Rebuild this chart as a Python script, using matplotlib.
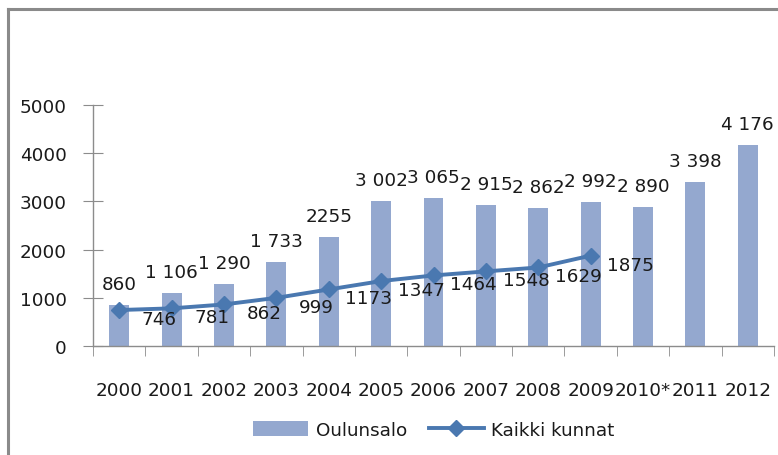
#!/usr/bin/env python3
"""Oulunsalo vs. Kaikki kunnat, 2000-2012 (bars + line)."""

import matplotlib
matplotlib.use("Agg")
import matplotlib.pyplot as plt
import matplotlib.lines as mlines
import numpy as np

# ─── DATA ─────────────────────────────────────────────────────────────────────

years = ["2000", "2001", "2002", "2003", "2004", "2005", "2006",
         "2007", "2008", "2009", "2010*", "2011", "2012"]
oulunsalo = [860, 1106, 1290, 1733, 2255, 3002, 3065,
             2915, 2862, 2992, 2890, 3398, 4176]
oulunsalo_labels = ["860", "1 106", "1 290", "1 733", "2255", "3 002", "3 065",
                    "2 915", "2 862", "2 992", "2 890", "3 398", "4 176"]
kaikki = [746, 781, 862, 999, 1173, 1347, 1464, 1548, 1629, 1875]

# ─── COLORS ───────────────────────────────────────────────────────────────────

BAR_CLR = "#94a8cf"
LINE_CLR = "#4a78b0"
TEXT_CLR = "#1a1a1a"
AXIS_CLR = "#8c8c8c"
FRAME_CLR = "#8a8a8a"
FS = 13.2

plt.rcParams["font.family"] = ["DejaVu Sans"]

fig = plt.figure(figsize=(7.78, 4.56), dpi=100)
fig.patch.set_facecolor("white")

# outer frame: top and left lines only
fig.add_artist(mlines.Line2D([8 / 778, 1.0], [1 - 10 / 456, 1 - 10 / 456],
                            transform=fig.transFigure, color=FRAME_CLR, lw=2.2))
fig.add_artist(mlines.Line2D([8 / 778, 8 / 778], [0, 1 - 10 / 456],
                            transform=fig.transFigure, color=FRAME_CLR, lw=2.2))

ax = fig.add_axes([93 / 778, 1 - 347 / 456, (774 - 93) / 778, (347 - 106) / 456])
x = np.arange(len(years))

bars = ax.bar(x, oulunsalo, width=0.38, color=BAR_CLR, zorder=2, label="Oulunsalo")
line, = ax.plot(x[:len(kaikki)], kaikki, color=LINE_CLR, lw=2.8, marker="D",
                markersize=8, zorder=3, label="Kaikki kunnat")

# bar labels
for xi, v, s in zip(x, oulunsalo, oulunsalo_labels):
    ax.annotate(s, (xi, v), xytext=(0, 12), textcoords="offset pixels",
                ha="center", va="bottom", fontsize=FS, color=TEXT_CLR)

# line labels (to the right and slightly below the markers)
for xi, v in zip(x, kaikki):
    ax.annotate(str(v), (xi, v), xytext=(40, -9), textcoords="offset pixels",
                ha="center", va="center", fontsize=FS, color=TEXT_CLR, zorder=4)

ax.set_xlim(-0.5, len(years) - 0.5)
ax.set_ylim(0, 5000)
ax.set_yticks([0, 1000, 2000, 3000, 4000, 5000])
ax.set_xticks(x)
ax.set_xticklabels(years)
ax.set_xticks(np.arange(-0.5, len(years)), minor=True)

for side in ["top", "right"]:
    ax.spines[side].set_visible(False)
for side in ["left", "bottom"]:
    ax.spines[side].set_color(AXIS_CLR)
    ax.spines[side].set_linewidth(1.0)

ax.tick_params(axis="y", direction="inout", length=14, color=AXIS_CLR,
               labelsize=FS, labelcolor=TEXT_CLR, pad=12)
ax.tick_params(axis="x", which="major", length=0, labelsize=FS,
               labelcolor=TEXT_CLR, pad=25)
ax.tick_params(axis="x", which="minor", direction="out", length=7,
               color=AXIS_CLR)

leg = fig.legend(handles=[bars, line], loc="center", ncol=2,
                 bbox_to_anchor=(434 / 778, 1 - 431 / 456), frameon=False,
                 fontsize=FS, handlelength=3.0, handleheight=0.9,
                 columnspacing=1.2, handletextpad=0.4)
for t in leg.get_texts():
    t.set_color(TEXT_CLR)

fig.savefig("out.png", dpi=100, facecolor="white")
plt.close(fig)
